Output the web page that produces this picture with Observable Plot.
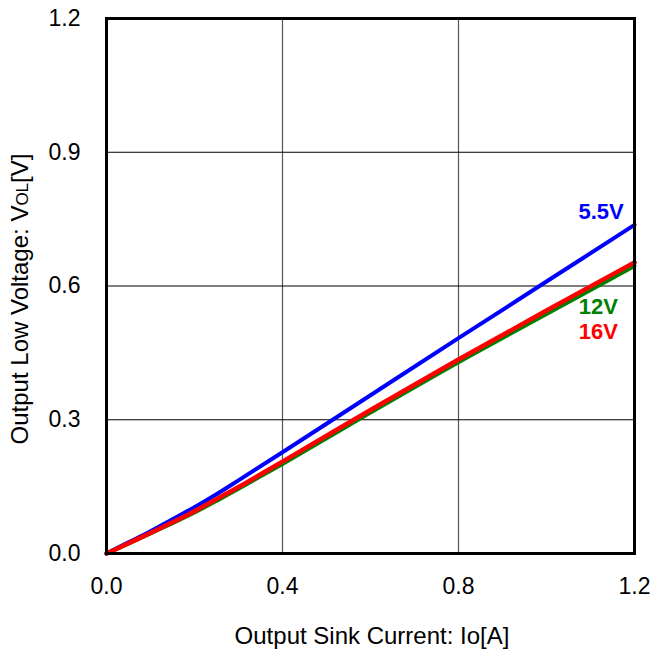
<!DOCTYPE html>
<html>
<head>
<meta charset="utf-8">
<script src="https://cdn.jsdelivr.net/npm/d3@7"></script>
<script src="https://cdn.jsdelivr.net/npm/@observablehq/plot@0.6"></script>
<style>
  html, body { margin: 0; padding: 0; background: #fff; }
  svg { display: block; }
</style>
</head>
<body>
<div id="chart"></div>
<script>
// Output sink current Io [A]
const current = [0, 0.05, 0.1, 0.15, 0.2, 0.25, 0.3, 0.4, 0.6, 0.8, 1.0, 1.2];
// Output low voltage VOL [V] per supply voltage
const vol55 = [0, 0.025, 0.050, 0.077, 0.104, 0.133, 0.164, 0.227, 0.355, 0.483, 0.610, 0.737];
const vol12 = [0, 0.022, 0.045, 0.068, 0.092, 0.118, 0.145, 0.201, 0.316, 0.429, 0.537, 0.645];
const vol16 = [0, 0.023, 0.046, 0.070, 0.095, 0.122, 0.149, 0.206, 0.322, 0.435, 0.545, 0.653];
const seriesNames = ["5.5V", "12V", "16V"];
const seriesColors = ["#0000ff", "#008000", "#ff0000"];
const xTicks = [0, 0.4, 0.8, 1.2];
const yTicks = [0, 0.3, 0.6, 0.9, 1.2];
const labelPos = [
  {name: "5.5V", x: 1.124, y: 0.767},
  {name: "12V", x: 1.118, y: 0.554},
  {name: "16V", x: 1.118, y: 0.497}
];

const toRows = (vals, name) => current.map((c, i) => ({x: c, y: vals[i], s: name}));
const rows55 = toRows(vol55, "5.5V");
const rows12 = toRows(vol12, "12V");
const rows16 = toRows(vol16, "16V");
const colorOf = n => seriesColors[seriesNames.indexOf(n)];

const font = "'Liberation Sans', Arial, sans-serif";

const chart = Plot.plot({
  width: 650,
  height: 655,
  marginLeft: 106,
  marginRight: 16,
  marginTop: 18,
  marginBottom: 102,
  style: {fontFamily: font, fontSize: "23px", background: "#fff", color: "#000"},
  x: {domain: [0, 1.2], label: null},
  y: {domain: [0, 1.2], label: null},
  marks: [
    Plot.gridX(xTicks, {stroke: "#555", strokeOpacity: 1, strokeWidth: 1.2}),
    Plot.gridY(yTicks, {stroke: "#000", strokeOpacity: 1, strokeWidth: 1}),
    Plot.line(rows55, {x: "x", y: "y", stroke: colorOf("5.5V"), strokeWidth: 4, curve: "catmull-rom"}),
    Plot.line(rows12, {x: "x", y: "y", stroke: colorOf("12V"), strokeWidth: 4, curve: "catmull-rom"}),
    Plot.line(rows16, {x: "x", y: "y", stroke: colorOf("16V"), strokeWidth: 4.5, curve: "catmull-rom"}),
    Plot.frame({stroke: "#000", strokeWidth: 3}),
    Plot.axisX({ticks: xTicks, tickFormat: d3.format(".1f"), tickSize: 0, tickPadding: 24, fontSize: 23, label: null}),
    Plot.axisY({ticks: yTicks, tickFormat: d3.format(".1f"), tickSize: 0, tickPadding: 26, fontSize: 23, label: null}),
    Plot.text(labelPos, {x: "x", y: "y", text: "name", fill: d => colorOf(d.name), fontWeight: "bold", fontSize: 22, textAnchor: "middle"})
  ]
});

const svg = d3.select(chart);
// X axis title
svg.append("text")
  .attr("x", 372).attr("y", 644)
  .attr("text-anchor", "middle")
  .attr("font-family", font).attr("font-size", 24).attr("fill", "#000")
  .text("Output Sink Current: Io[A]");
// Y axis title with small-size OL
const yt = svg.append("text")
  .attr("transform", "translate(28,299) rotate(-90)")
  .attr("text-anchor", "middle")
  .attr("font-family", font).attr("font-size", 24).attr("fill", "#000");
yt.append("tspan").text("Output Low Voltage: V");
yt.append("tspan").attr("font-size", 17).text("OL");
yt.append("tspan").text("[V]");

document.getElementById("chart").appendChild(chart);
</script>
</body>
</html>
